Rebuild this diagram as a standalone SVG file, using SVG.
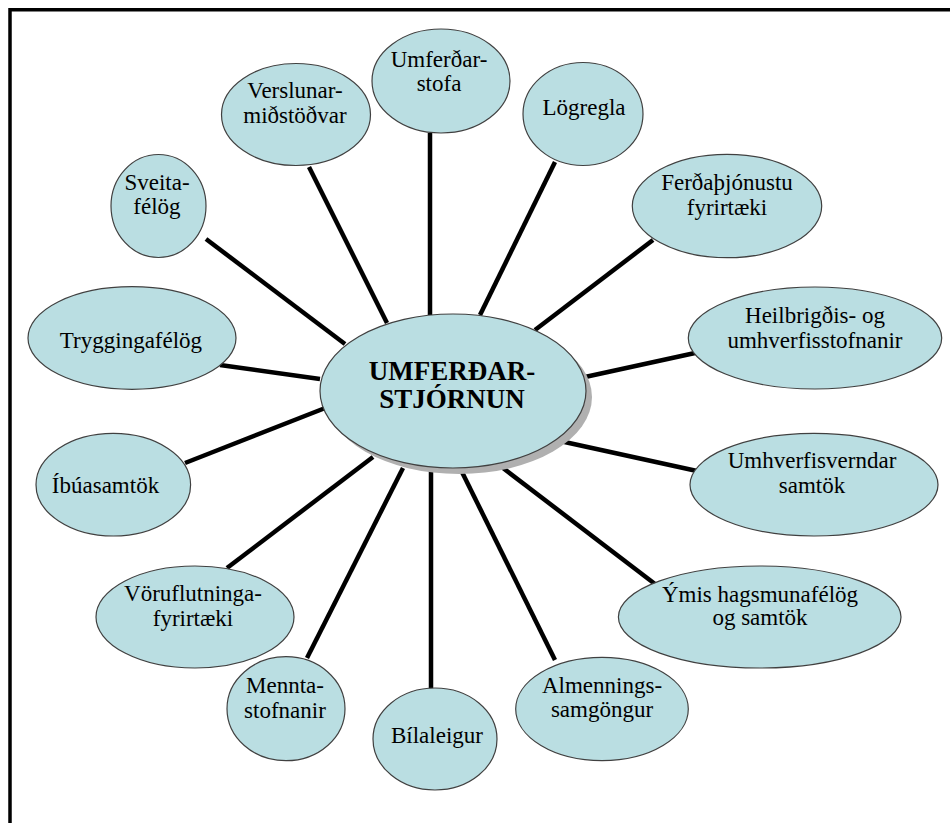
<svg xmlns="http://www.w3.org/2000/svg" width="950" height="823" viewBox="0 0 950 823">
<style>
.n{fill:#badee2;stroke:#404040;stroke-width:1.2}
.t{font-family:'Liberation Serif','Times New Roman',serif;font-size:23px;fill:#000;text-anchor:middle}
.c{font-family:'Liberation Serif','Times New Roman',serif;font-size:27px;font-weight:bold;fill:#000;text-anchor:middle}
.l{stroke:#000;stroke-width:4.5;stroke-linecap:butt}
</style>
<rect width="950" height="823" fill="#fff"/>
<path d="M10 823 V9.8 H950" fill="none" stroke="#000" stroke-width="3.5"/>
<g id="connectors">
<line class="l" x1="430" y1="133" x2="430" y2="315"/>
<line class="l" x1="309" y1="167" x2="387" y2="323"/>
<line class="l" x1="206" y1="239" x2="345" y2="344"/>
<line class="l" x1="220" y1="365" x2="320" y2="379"/>
<line class="l" x1="185" y1="463" x2="338" y2="403"/>
<line class="l" x1="227" y1="568" x2="373" y2="457"/>
<line class="l" x1="307" y1="658" x2="403" y2="468"/>
<line class="l" x1="431" y1="468" x2="431" y2="689"/>
<line class="l" x1="460" y1="468" x2="555" y2="660"/>
<line class="l" x1="503" y1="468" x2="655" y2="584"/>
<line class="l" x1="560" y1="441" x2="697" y2="471"/>
<line class="l" x1="585" y1="377" x2="695" y2="353"/>
<line class="l" x1="535" y1="330" x2="653" y2="240"/>
<line class="l" x1="480" y1="315" x2="555" y2="162"/>
</g>
<g id="center">
<ellipse cx="459" cy="397" rx="133" ry="77" fill="#b0b0b0"/>
<ellipse class="n" cx="453" cy="391" rx="133" ry="77"/>
<text class="c" x="452" y="380">UMFERÐAR-</text>
<text class="c" x="452" y="408">STJÓRNUN</text>
</g>
<g id="umferdarstofa">
<ellipse class="n" cx="441" cy="81" rx="69" ry="52"/>
<text class="t" x="439" y="67">Umferðar-</text>
<text class="t" x="439" y="91">stofa</text>
</g>
<g id="verslunarmidstodvar">
<ellipse class="n" cx="296" cy="114.5" rx="74.5" ry="51"/>
<text class="t" x="295" y="98">Verslunar-</text>
<text class="t" x="295" y="123">miðstöðvar</text>
</g>
<g id="sveitafelog">
<ellipse class="n" cx="158.5" cy="206" rx="47.5" ry="51.5"/>
<text class="t" x="157" y="190">Sveita-</text>
<text class="t" x="157" y="214">félög</text>
</g>
<g id="logregla">
<ellipse class="n" cx="583" cy="114" rx="60" ry="51.5"/>
<text class="t" x="584" y="115">Lögregla</text>
</g>
<g id="ferdathjonustu">
<ellipse class="n" cx="727" cy="206" rx="94.7" ry="51.7"/>
<text class="t" x="727" y="190">Ferðaþjónustu</text>
<text class="t" x="727" y="215">fyrirtæki</text>
</g>
<g id="heilbrigdis">
<ellipse class="n" cx="815" cy="338" rx="126.7" ry="51"/>
<text class="t" x="815" y="322.5">Heilbrigðis- og</text>
<text class="t" x="815" y="348">umhverfisstofnanir</text>
</g>
<g id="umhverfisverndar">
<ellipse class="n" cx="814" cy="484.7" rx="124" ry="51.3"/>
<text class="t" x="812" y="468">Umhverfisverndar</text>
<text class="t" x="812" y="493">samtök</text>
</g>
<g id="ymis">
<ellipse class="n" cx="759.7" cy="617" rx="141.3" ry="51"/>
<text class="t" x="760" y="601.5">Ýmis hagsmunafélög</text>
<text class="t" x="760" y="625">og samtök</text>
</g>
<g id="almenningssamgongur">
<ellipse class="n" cx="602" cy="709" rx="86.3" ry="51.7"/>
<text class="t" x="602" y="693">Almennings-</text>
<text class="t" x="602" y="717">samgöngur</text>
</g>
<g id="bilaleigur">
<ellipse class="n" cx="435" cy="739" rx="62" ry="51"/>
<text class="t" x="437" y="743">Bílaleigur</text>
</g>
<g id="menntastofnanir">
<ellipse class="n" cx="286" cy="708.7" rx="59" ry="52"/>
<text class="t" x="285" y="693">Mennta-</text>
<text class="t" x="285" y="718">stofnanir</text>
</g>
<g id="voruflutninga">
<ellipse class="n" cx="195" cy="617" rx="99" ry="51"/>
<text class="t" x="193" y="601">Vöruflutninga-</text>
<text class="t" x="193" y="626">fyrirtæki</text>
</g>
<g id="ibuasamtok">
<ellipse class="n" cx="113.3" cy="484.7" rx="77.3" ry="51.3"/>
<text class="t" x="105.5" y="493">Íbúasamtök</text>
</g>
<g id="tryggingafelog">
<ellipse class="n" cx="132" cy="338" rx="104" ry="51.3"/>
<text class="t" x="131" y="348">Tryggingafélög</text>
</g>
</svg>
